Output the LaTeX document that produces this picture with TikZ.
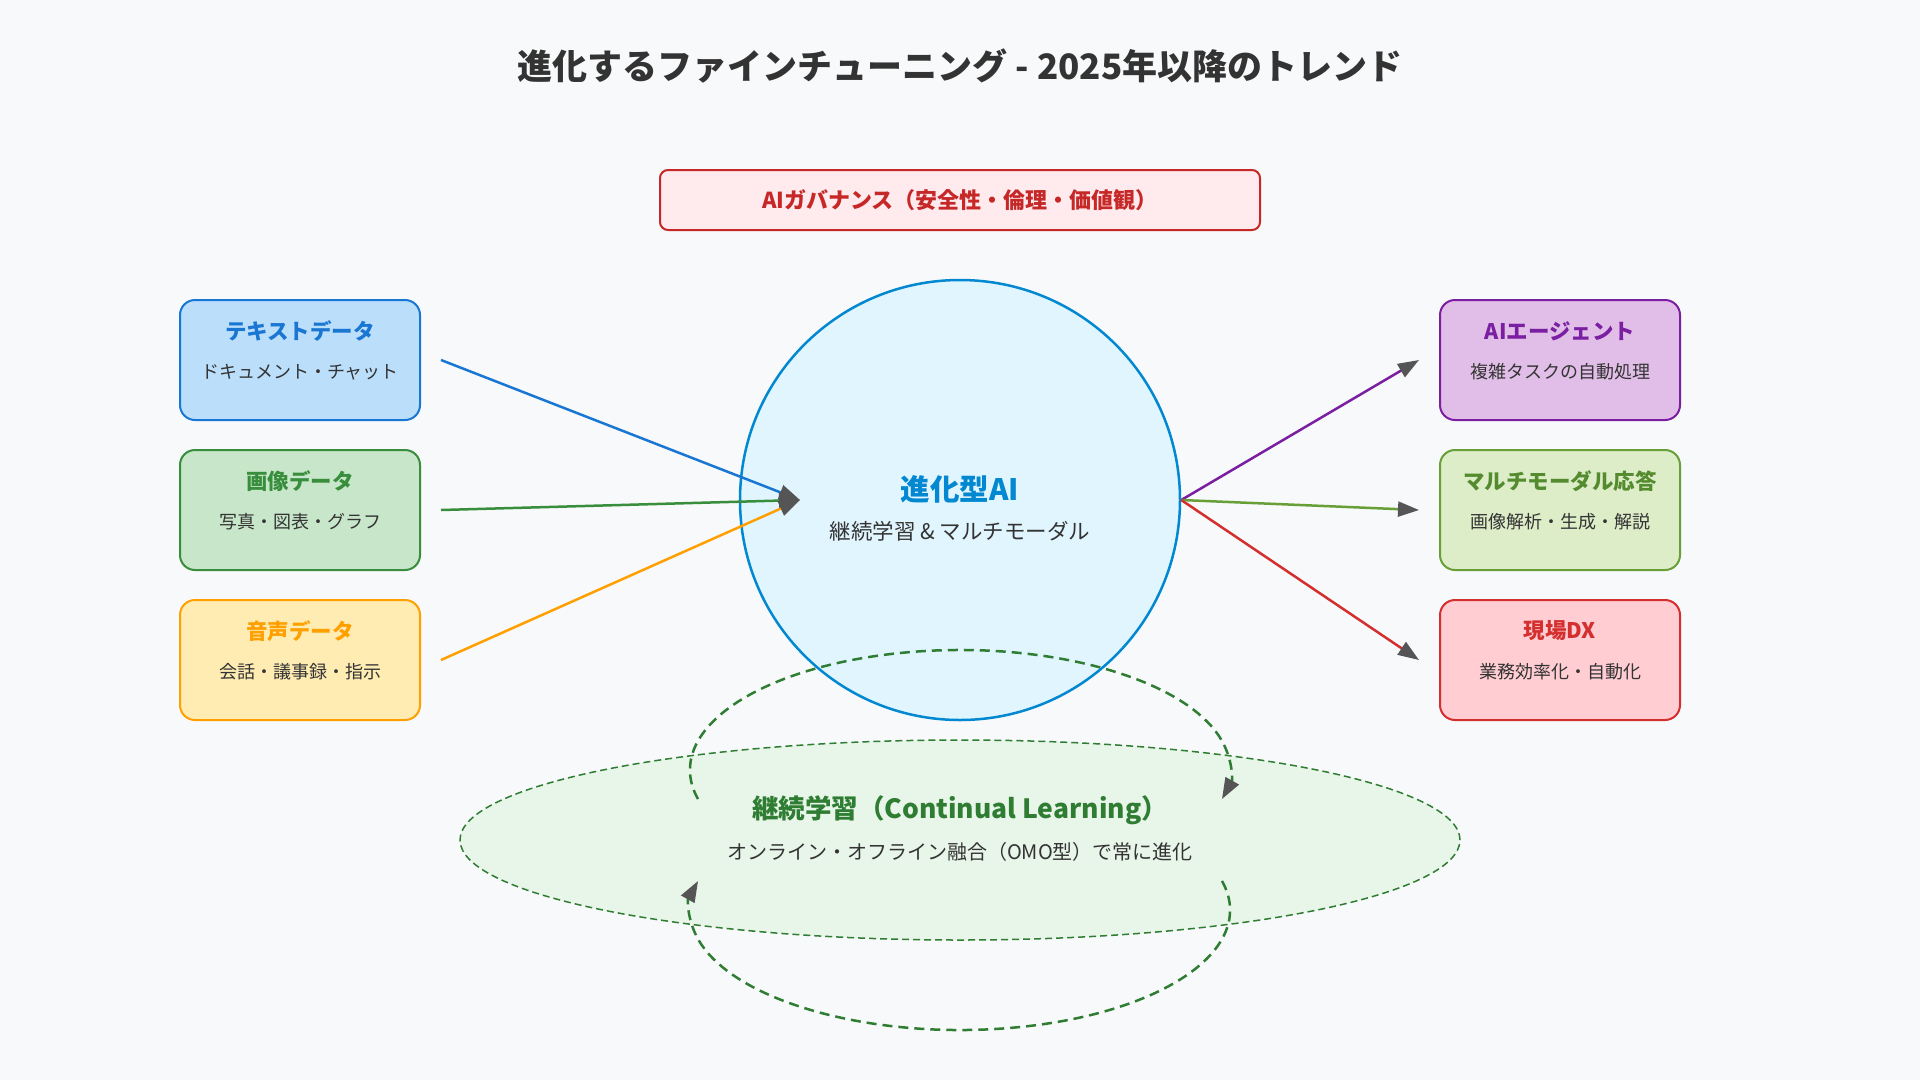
\documentclass[tikz,border=0pt]{standalone}
\usepackage{fontspec}
\setmainfont{Noto Sans CJK JP}
\usetikzlibrary{arrows.meta,shapes.geometric,calc}
\definecolor{bg}{HTML}{F8F9FA}
\definecolor{txt}{HTML}{333333}
\definecolor{tipc}{HTML}{555555}
\definecolor{blueS}{HTML}{1976D2}\definecolor{blueF}{HTML}{BBDEFB}
\definecolor{greenS}{HTML}{388E3C}\definecolor{greenF}{HTML}{C8E6C9}
\definecolor{orangeS}{HTML}{FFA000}\definecolor{orangeF}{HTML}{FFECB3}
\definecolor{purpS}{HTML}{7B1FA2}\definecolor{purpF}{HTML}{E1BEE7}
\definecolor{lgS}{HTML}{689F38}\definecolor{lgF}{HTML}{DCEDC8}\definecolor{lgT}{HTML}{558B2F}
\definecolor{redS}{HTML}{D32F2F}\definecolor{redF}{HTML}{FFCDD2}
\definecolor{govS}{HTML}{C62828}\definecolor{govF}{HTML}{FFEBEE}
\definecolor{aiS}{HTML}{0288D1}\definecolor{aiF}{HTML}{E1F5FE}
\definecolor{clS}{HTML}{2E7D32}\definecolor{clF}{HTML}{E8F5E9}
\begin{document}
\begin{tikzpicture}[x=1pt,y=-1pt,
  databox/.style={draw, line width=2pt, rounded corners=15pt, minimum width=240pt, minimum height=120pt, inner sep=0pt},
  ttl/.style={font=\bfseries\fontsize{21.5}{25}\selectfont, inner sep=0pt},
  subt/.style={text=txt, font=\fontsize{18}{22}\selectfont, inner sep=0pt},
  arr/.style={line width=2.5pt, -{Triangle[length=21pt,width=15pt,color=tipc]}},
  loop/.style={draw=clS, line width=2.5pt, dash pattern=on 10pt off 6pt, -{Triangle[length=21pt,width=15pt,color=tipc]}}
]
\fill[bg] (0,0) rectangle (1920,1080);
\useasboundingbox (0,0) rectangle (1920,1080);

% title
\node[text=txt, font=\bfseries\fontsize{35}{40}\selectfont] (title) at (960,66) {進化するファインチューニング - 2025年以降のトレンド};

% governance
\node[draw=govS, fill=govF, line width=2pt, rounded corners=8pt, minimum width=600pt, minimum height=60pt, text=govS, font=\bfseries\fontsize{22}{26}\selectfont] (gov) at (960,200) {AIガバナンス（安全性・倫理・価値観）};

% center circle
\node[circle, draw=aiS, fill=aiF, line width=2.5pt, minimum size=440pt, inner sep=0pt] (ai) at (960,500) {};
\node[text=aiS, font=\bfseries\fontsize{29.5}{34}\selectfont] (aiT) at (960,489) {進化型AI};
\node[text=txt, font=\fontsize{21.5}{26}\selectfont] (aiS2) at (960,531) {継続学習 \& マルチモーダル};
\coordinate (hub) at (800,500);

% left boxes
\node[databox, draw=blueS, fill=blueF] (tb) at (300,360) {};
\node[ttl, text=blueS] at ($(tb.north)+(0,32)$) {テキストデータ};
\node[subt] at ($(tb.north)+(0,73)$) {ドキュメント・チャット};

\node[databox, draw=greenS, fill=greenF] (ib) at (300,510) {};
\node[ttl, text=greenS] at ($(ib.north)+(0,32)$) {画像データ};
\node[subt] at ($(ib.north)+(0,73)$) {写真・図表・グラフ};

\node[databox, draw=orangeS, fill=orangeF] (vb) at (300,660) {};
\node[ttl, text=orangeS] at ($(vb.north)+(0,32)$) {音声データ};
\node[subt] at ($(vb.north)+(0,73)$) {会話・議事録・指示};

% right boxes
\node[databox, draw=purpS, fill=purpF] (ab) at (1560,360) {};
\node[ttl, text=purpS] at ($(ab.north)+(0,32)$) {AIエージェント};
\node[subt] at ($(ab.north)+(0,73)$) {複雑タスクの自動処理};

\node[databox, draw=lgS, fill=lgF] (mb) at (1560,510) {};
\node[ttl, text=lgT] at ($(mb.north)+(0,32)$) {マルチモーダル応答};
\node[subt] at ($(mb.north)+(0,73)$) {画像解析・生成・解説};

\node[databox, draw=redS, fill=redF] (db) at (1560,660) {};
\node[ttl, text=redS] at ($(db.north)+(0,32)$) {現場DX};
\node[subt] at ($(db.north)+(0,73)$) {業務効率化・自動化};

% arrows in
\draw[arr, draw=blueS] ($(tb.east)+(20,0)$) -- (hub);
\draw[arr, draw=greenS] ($(ib.east)+(20,0)$) -- (hub);
\draw[arr, draw=orangeS] ($(vb.east)+(20,0)$) -- (hub);
% arrows out
\draw[arr, draw=purpS] (ai.east) -- ($(ab.west)+(-20,0)$);
\draw[arr, draw=lgS] (ai.east) -- ($(mb.west)+(-20,0)$);
\draw[arr, draw=redS] (ai.east) -- ($(db.west)+(-20,0)$);

% continual learning ellipse
\node[ellipse, draw=clS, fill=clF, line width=1.5pt, dash pattern=on 7pt off 4pt, minimum width=1000pt, minimum height=200pt, inner sep=0pt] (cl) at (960,840) {};
\node[text=clS, font=\bfseries\fontsize{26.5}{31}\selectfont] (clT) at (960,810) {継続学習（Continual Learning）};
\node[text=txt, font=\fontsize{20}{24}\selectfont] (clS2) at (960,852) {オンライン・オフライン融合（OMO型）で常に進化};

% loop
\coordinate (lt) at (960,770);
\coordinate (lb) at (960,910);
\draw[loop] ($(lt)+(166:270 and 120)$) arc[start angle=166, end angle=374, x radius=270, y radius=120];
\draw[loop] ($(lb)+(-14:270 and 120)$) arc[start angle=-14, end angle=194, x radius=270, y radius=120];
\end{tikzpicture}
\end{document}
